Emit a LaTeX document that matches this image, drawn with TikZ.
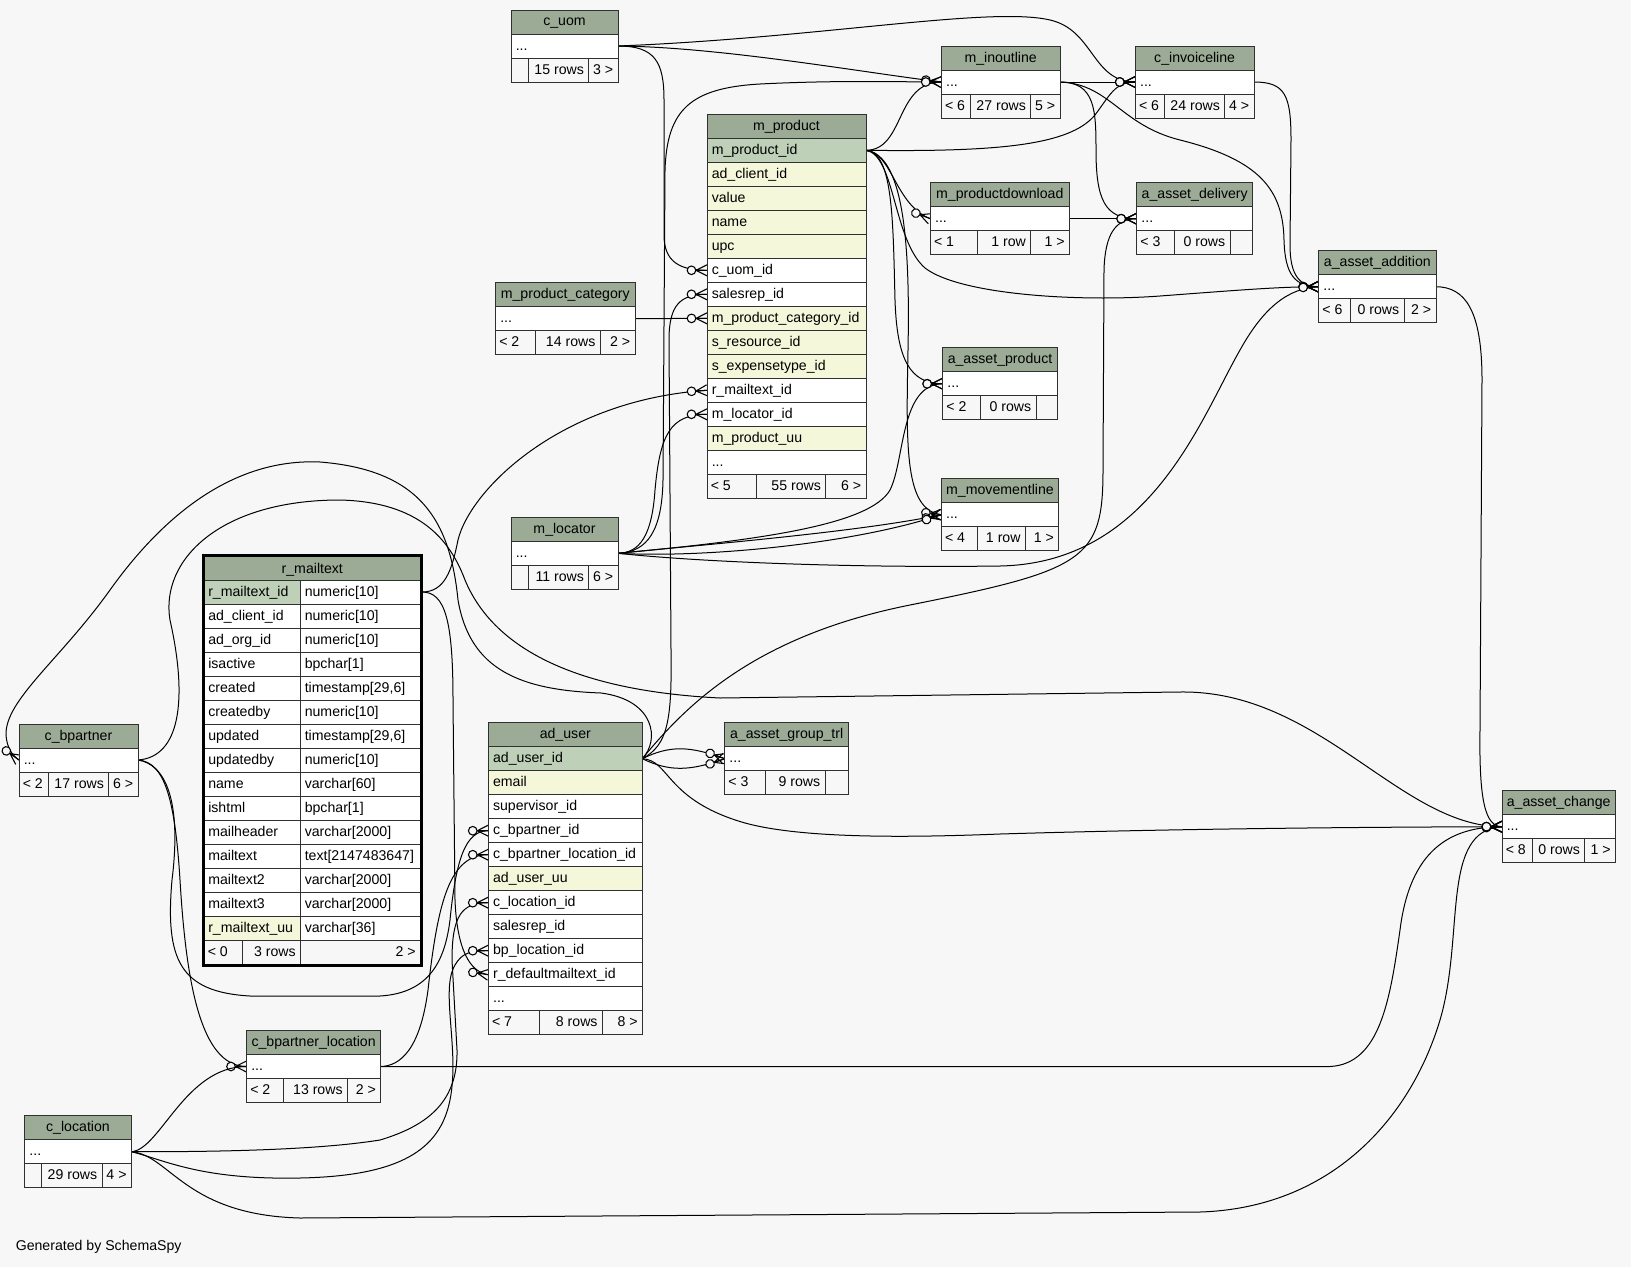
\documentclass[tikz,border=0pt]{standalone}
\usepackage{fontspec}
\setmainfont{Liberation Sans}
\usetikzlibrary{decorations.markings}
\definecolor{bgc}{HTML}{F7F7F7}
\definecolor{headc}{HTML}{9BAB96}
\definecolor{pkc}{HTML}{BED1B8}
\definecolor{ixc}{HTML}{F4F7DA}
\definecolor{bordc}{HTML}{303030}
\newcount\nodeno
\newcommand\tfont{\fontsize{10.6}{12}\selectfont}
\newcommand\crowfoot{%
  \draw[line width=0.8pt] (-11,0) -- (0,5.5) (-11,0) -- (0,-5.5) (-11,0) -- (0,0);
  \draw[line width=0.8pt, fill=bgc] (-15.5,0) circle[radius=4.3];}
\tikzset{
  tb/.style={draw=bordc, line width=0.75pt},
  txt/.style={inner sep=0pt, font=\tfont, text=black},
  fk/.style={draw=black, line width=0.75pt, postaction={decorate},
    decoration={markings, mark=at position 0.9999 with {\crowfoot}}}
}
\newcommand\tbcell[4]{\global\advance\nodeno by 1 \node[txt,#1] (n\the\nodeno) at (#2,#3) {#4};}
\newcommand\tbhdr[5]{\filldraw[tb,fill=headc] (#2,#3) rectangle ++(#4,24);
  \node[txt,anchor=base] (#1) at (#2+#4/2,#3+16) {#5};}
\newcommand\tbrow[5]{\filldraw[tb,fill=#4] (#1,#2) rectangle ++(#3,24);
  \tbcell{anchor=base west}{#1+4.5}{#2+16}{#5}}
\newcommand\tbfoot[8]{\draw[tb] (#1,#2) rectangle ++(#3,24) (#4,#2) -- ++(0,24) (#5,#2) -- ++(0,24);
  \tbcell{anchor=base west}{#1+3.5}{#2+16}{#6}%
  \tbcell{anchor=base east}{#5-4.5}{#2+16}{#7}%
  \tbcell{anchor=base east}{#1+#3-4.5}{#2+16}{#8}}
\newcommand\tbctab[5]{\tbhdr{#1}{#2}{#3}{#4}{#5}\tbrow{#2}{#3+24}{#4}{white}{...}}
\newcommand\tbmrow[4]{\filldraw[tb,fill=#2] (204,#1) rectangle (300.7,#1+24);
  \filldraw[tb,fill=white] (300.7,#1) rectangle (420.5,#1+24);
  \tbcell{anchor=base west}{208}{#1+16}{#3}\tbcell{anchor=base west}{304.5}{#1+16}{#4}}
\begin{document}
\begin{tikzpicture}[x=0.75pt,y=-0.75pt]
\useasboundingbox (0,0) rectangle (1631,1267);
\fill[bgc] (0,0) rectangle (1631,1267);
% anchors
\coordinate (uom-r) at (618,46);
\coordinate (mp-pk) at (866,150.3);
\coordinate (mp-uom) at (707,270.3);
\coordinate (mp-srep) at (707,294.3);
\coordinate (mp-cat) at (707,318.3);
\coordinate (mp-mail) at (707,390.3);
\coordinate (mp-loc) at (707,414.3);
\coordinate (io-l) at (941.3,82);
\coordinate (io-r) at (1060,82);
\coordinate (il-l) at (1135.3,82);
\coordinate (il-r) at (1254,82);
\coordinate (pd-l) at (930.3,218.7);
\coordinate (pd-r) at (1069.3,218.7);
\coordinate (ad-l) at (1136.7,218.7);
\coordinate (aa-l) at (1318.7,286.7);
\coordinate (aa-r) at (1436,286.7);
\coordinate (pc-r) at (635,318.7);
\coordinate (ap-l) at (942.7,383.7);
\coordinate (ml-l) at (941.3,514.7);
\coordinate (lo-r) at (618,553.3);
\coordinate (rm-r) at (422,592);
\coordinate (bp-l) at (19,760);
\coordinate (bp-r) at (138,760);
\coordinate (au-r) at (642.3,758.7);
\coordinate (au-bp) at (488.3,830.7);
\coordinate (au-bpl) at (488.3,854.7);
\coordinate (au-loc) at (488.3,902.7);
\coordinate (au-bploc) at (488.3,950.7);
\coordinate (au-mail) at (488.3,974.7);
\coordinate (ag-l) at (724.7,758.7);
\coordinate (ac-l) at (1502,826.7);
\coordinate (bl-l) at (246.5,1066.5);
\coordinate (bl-r) at (380.7,1066.5);
\coordinate (cl-r) at (131.3,1151.7);
% connectors
\draw[fk] (uom-r) .. controls (655,46) and (664,62) .. (664,100) -- (664,235) .. controls (664,262) and (680,270.3) .. (mp-uom);
\draw[fk] (uom-r) .. controls (720,47) and (860,72) .. (io-l);
\draw[fk] (uom-r) .. controls (820,38) and (990,6) .. (1050,20) .. controls (1094,30) and (1092,82) .. (il-l);
\draw[fk] (io-r) -- (il-l);
\draw[fk] (io-r) .. controls (1095,82) and (1096,110) .. (1096,150) .. controls (1096,200) and (1105,218.7) .. (ad-l);
\draw[fk] (io-r) .. controls (1110,84) and (1120,125) .. (1180,140) .. controls (1260,160) and (1283,190) .. (1284,240) .. controls (1285,275) and (1295,286.7) .. (aa-l);
\draw[fk] (il-r) .. controls (1285,82) and (1291,95) .. (1291,140) -- (1290,245) .. controls (1290,276) and (1300,286.7) .. (aa-l);
\draw[fk] (mp-pk) .. controls (905,150) and (895,82) .. (io-l);
\draw[fk] (mp-pk) .. controls (1000,152) and (1070,145) .. (1095,115) .. controls (1110,95) and (1115,82) .. (il-l);
\draw[fk] (mp-pk) .. controls (892,152) and (895,205) .. (pd-l);
\draw[fk] (mp-pk) .. controls (893,152) and (893,220) .. (895,300) .. controls (897,360) and (910,383.7) .. (ap-l);
\draw[fk] (mp-pk) .. controls (905,155) and (910,250) .. (908,350) .. controls (906,450) and (905,510) .. (ml-l);
\draw[fk] (mp-pk) .. controls (895,155) and (893,240) .. (925,268) .. controls (960,295) and (1080,302) .. (1160,296) .. controls (1240,290) and (1280,286.7) .. (aa-l);
\draw[fk] (pd-r) -- (ad-l);
\draw[fk] (pc-r) -- (mp-cat);
\draw[fk] (rm-r) .. controls (445,592) and (452,570) .. (458,540) .. controls (470,490) and (560,400) .. (mp-mail);
\draw[fk] (rm-r) .. controls (445,592) and (453,620) .. (453,700) -- (455,900) .. controls (457,950) and (470,972) .. (au-mail);
\draw[fk] (lo-r) .. controls (640,553) and (652,535) .. (655,490) .. controls (660,435) and (670,414.3) .. (mp-loc);
\draw[fk] (lo-r) .. controls (648,552) and (662,530) .. (663,480) -- (665,170) .. controls (667,110) and (690,88) .. (760,84) .. controls (840,80) and (900,82) .. (io-l);
\draw[fk] (lo-r) .. controls (760,540) and (870,525) .. (890,490) .. controls (905,460) and (900,384) .. (ap-l);
\draw[fk] (lo-r) .. controls (700,545) and (860,532) .. (ml-l);
\draw[fk] (lo-r) .. controls (700,558) and (850,545) .. (ml-l);
\draw[fk] (lo-r) .. controls (700,562) and (850,568) .. (1000,566) .. controls (1150,563) and (1200,420) .. (1240,350) .. controls (1265,305) and (1290,288) .. (aa-l);
\draw[fk] (au-r) .. controls (668,745) and (672,720) .. (671,650) -- (669,340) .. controls (669,305) and (680,294.3) .. (mp-srep);
\draw[fk] (au-r) .. controls (690,700) and (760,635) .. (910,605) .. controls (1085,570) and (1103,560) .. (1103,470) -- (1104,270) .. controls (1105,235) and (1115,218.7) .. (ad-l);
\draw[fk] (au-r) .. controls (670,745) and (690,746) .. (ag-l);
\draw[fk] (au-r) .. controls (670,772) and (690,771) .. (ag-l);
\draw[fk] (au-r) .. controls (670,760) and (665,800) .. (745,823) .. controls (800,838) and (900,838) .. (1000,834) .. controls (1200,828) and (1400,827) .. (ac-l);
\draw[fk] (au-r) .. controls (660,740) and (655,700) .. (601,693) .. controls (520,690) and (470,670) .. (458,600) .. controls (450,520) and (420,470) .. (320,462) .. controls (230,458) and (160,520) .. (110,590) .. controls (60,660) and (5,700) .. (6,735) .. controls (7,748) and (12,755) .. (bp-l);
\draw[fk] (bp-r) .. controls (180,757) and (188,700) .. (170,620) .. controls (160,560) and (220,500) .. (340,500) .. controls (420,502) and (450,540) .. (465,580) .. controls (490,640) and (560,690) .. (720,698) -- (1180,692) .. controls (1320,690) and (1400,826.7) .. (ac-l);
\draw[fk] (bp-r) .. controls (165,764) and (182,800) .. (172,880) .. controls (165,960) and (180,992) .. (250,996) -- (380,996) .. controls (430,993) and (445,960) .. (450,920) .. controls (456,860) and (465,830.7) .. (au-bp);
\draw[fk] (bp-r) .. controls (165,762) and (175,800) .. (180,880) .. controls (186,980) and (200,1066.5) .. (bl-l);
\draw[fk] (cl-r) .. controls (160,1150) and (185,1066.5) .. (bl-l);
\draw[fk] (bl-r) .. controls (400,1066) and (420,1050) .. (428,990) .. controls (438,900) and (450,854.7) .. (au-bpl);
\draw[fk] (cl-r) .. controls (250,1152) and (330,1148) .. (380,1140) .. controls (430,1125) and (458,1100) .. (457,1050) -- (452,960) .. controls (452,915) and (462,902.7) .. (au-loc);
\draw[fk] (cl-r) .. controls (165,1160) and (200,1180) .. (300,1178) .. controls (400,1176) and (440,1150) .. (450,1100) .. controls (460,1050) and (440,990) .. (455,965) .. controls (462,953) and (470,950.7) .. (au-bploc);
\draw[fk] (cl-r) .. controls (170,1155) and (185,1215) .. (300,1218) -- (1200,1212) .. controls (1330,1208) and (1410,1120) .. (1440,1020) .. controls (1465,935) and (1440,830) .. (ac-l);
\draw[fk] (bl-r) -- (1330,1066.5) .. controls (1380,1064) and (1390,1000) .. (1400,930) .. controls (1410,850) and (1450,826.7) .. (ac-l);
\draw[fk] (aa-r) .. controls (1465,287) and (1482,310) .. (1482,380) -- (1480,730) .. controls (1479,800) and (1485,826.7) .. (ac-l);
% tables
\tbctab{c_uom}{511}{10}{107}{c\_uom}
\tbfoot{511}{58}{107}{528.7}{588.7}{}{15 rows}{3 >}
\tbctab{m_inoutline}{941.3}{46}{118.7}{m\_inoutline}
\tbfoot{941.3}{94}{118.7}{970.7}{1030.7}{< 6}{27 rows}{5 >}
\tbctab{c_invoiceline}{1135.3}{46}{118.7}{c\_invoiceline}
\tbfoot{1135.3}{94}{118.7}{1164.7}{1224.7}{< 6}{24 rows}{4 >}
\tbctab{m_productdownload}{930.3}{182.7}{139}{m\_productdownload}
\tbfoot{930.3}{230.7}{139}{977.3}{1030.7}{< 1}{1 row}{1 >}
\tbctab{a_asset_delivery}{1136.7}{182.7}{116}{a\_asset\_delivery}
\tbfoot{1136.7}{230.7}{116}{1174}{1230}{< 3}{0 rows}{}
\tbctab{a_asset_addition}{1318.7}{250.7}{117.3}{a\_asset\_addition}
\tbfoot{1318.7}{298.7}{117.3}{1350.7}{1404}{< 6}{0 rows}{2 >}
\tbctab{m_product_category}{495.5}{282.7}{139.5}{m\_product\_category}
\tbfoot{495.5}{330.7}{139.5}{535.7}{600.2}{< 2}{14 rows}{2 >}
\tbctab{a_asset_product}{942.7}{347.7}{114.6}{a\_asset\_product}
\tbfoot{942.7}{395.7}{114.6}{980}{1036}{< 2}{0 rows}{}
\tbctab{m_movementline}{941.3}{478.7}{117.4}{m\_movementline}
\tbfoot{941.3}{526.7}{117.4}{977}{1025.3}{< 4}{1 row}{1 >}
\tbctab{m_locator}{511}{517.3}{107}{m\_locator}
\tbfoot{511}{565.3}{107}{528.7}{588.7}{}{11 rows}{6 >}
\tbctab{c_bpartner}{19}{724}{119}{c\_bpartner}
\tbfoot{19}{772}{119}{48.7}{108.7}{< 2}{17 rows}{6 >}
\tbctab{a_asset_group_trl}{724.7}{722.7}{124}{a\_asset\_group\_trl}
\tbfoot{724.7}{770.7}{124}{765.7}{825}{< 3}{9 rows}{}
\tbctab{a_asset_change}{1502}{790.7}{113.3}{a\_asset\_change}
\tbfoot{1502}{838.7}{113.3}{1532.7}{1584.7}{< 8}{0 rows}{1 >}
\tbctab{c_bpartner_location}{246.5}{1030.5}{134.2}{c\_bpartner\_location}
\tbfoot{246.5}{1078.5}{134.2}{283}{347.4}{< 2}{13 rows}{2 >}
\tbctab{c_location}{24.7}{1115.7}{106.6}{c\_location}
\tbfoot{24.7}{1163.7}{106.6}{41.7}{102}{}{29 rows}{4 >}
% m_product
\tbhdr{m_product}{707}{114.3}{159}{m\_product}
\tbrow{707}{138.3}{159}{pkc}{m\_product\_id}
\tbrow{707}{162.3}{159}{ixc}{ad\_client\_id}
\tbrow{707}{186.3}{159}{ixc}{value}
\tbrow{707}{210.3}{159}{ixc}{name}
\tbrow{707}{234.3}{159}{ixc}{upc}
\tbrow{707}{258.3}{159}{white}{c\_uom\_id}
\tbrow{707}{282.3}{159}{white}{salesrep\_id}
\tbrow{707}{306.3}{159}{ixc}{m\_product\_category\_id}
\tbrow{707}{330.3}{159}{ixc}{s\_resource\_id}
\tbrow{707}{354.3}{159}{ixc}{s\_expensetype\_id}
\tbrow{707}{378.3}{159}{white}{r\_mailtext\_id}
\tbrow{707}{402.3}{159}{white}{m\_locator\_id}
\tbrow{707}{426.3}{159}{ixc}{m\_product\_uu}
\tbrow{707}{450.3}{159}{white}{...}
\tbfoot{707}{474.3}{159}{756.7}{825.7}{< 5}{55 rows}{6 >}
% ad_user
\tbhdr{ad_user}{488.3}{722.7}{154}{ad\_user}
\tbrow{488.3}{746.7}{154}{pkc}{ad\_user\_id}
\tbrow{488.3}{770.7}{154}{ixc}{email}
\tbrow{488.3}{794.7}{154}{white}{supervisor\_id}
\tbrow{488.3}{818.7}{154}{white}{c\_bpartner\_id}
\tbrow{488.3}{842.7}{154}{white}{c\_bpartner\_location\_id}
\tbrow{488.3}{866.7}{154}{ixc}{ad\_user\_uu}
\tbrow{488.3}{890.7}{154}{white}{c\_location\_id}
\tbrow{488.3}{914.7}{154}{white}{salesrep\_id}
\tbrow{488.3}{938.7}{154}{white}{bp\_location\_id}
\tbrow{488.3}{962.7}{154}{white}{r\_defaultmailtext\_id}
\tbrow{488.3}{986.7}{154}{white}{...}
\tbfoot{488.3}{1010.7}{154}{539}{602.3}{< 7}{8 rows}{8 >}
% r_mailtext
\filldraw[tb,fill=headc] (204,556) rectangle (420.5,580);
\node[txt,anchor=base] (r_mailtext) at (312.3,573) {r\_mailtext};
\tbmrow{580}{pkc}{r\_mailtext\_id}{numeric[10]}
\tbmrow{604}{white}{ad\_client\_id}{numeric[10]}
\tbmrow{628}{white}{ad\_org\_id}{numeric[10]}
\tbmrow{652}{white}{isactive}{bpchar[1]}
\tbmrow{676}{white}{created}{timestamp[29,6]}
\tbmrow{700}{white}{createdby}{numeric[10]}
\tbmrow{724}{white}{updated}{timestamp[29,6]}
\tbmrow{748}{white}{updatedby}{numeric[10]}
\tbmrow{772}{white}{name}{varchar[60]}
\tbmrow{796}{white}{ishtml}{bpchar[1]}
\tbmrow{820}{white}{mailheader}{varchar[2000]}
\tbmrow{844}{white}{mailtext}{text[2147483647]}
\tbmrow{868}{white}{mailtext2}{varchar[2000]}
\tbmrow{892}{white}{mailtext3}{varchar[2000]}
\tbmrow{916}{ixc}{r\_mailtext\_uu}{varchar[36]}
\draw[tb] (204,940) rectangle (420.5,964) (242,940) -- (242,964) (300.7,940) -- (300.7,964);
\tbcell{anchor=base west}{207.5}{956}{< 0}
\tbcell{anchor=base east}{296}{956}{3 rows}
\tbcell{anchor=base east}{416}{956}{2 >}
\draw[draw=black, line width=2.25pt] (203.8,555.2) rectangle (421,965);
\node[txt,anchor=base west] (credit) at (15.5,1250) {Generated by SchemaSpy};
\end{tikzpicture}
\end{document}
